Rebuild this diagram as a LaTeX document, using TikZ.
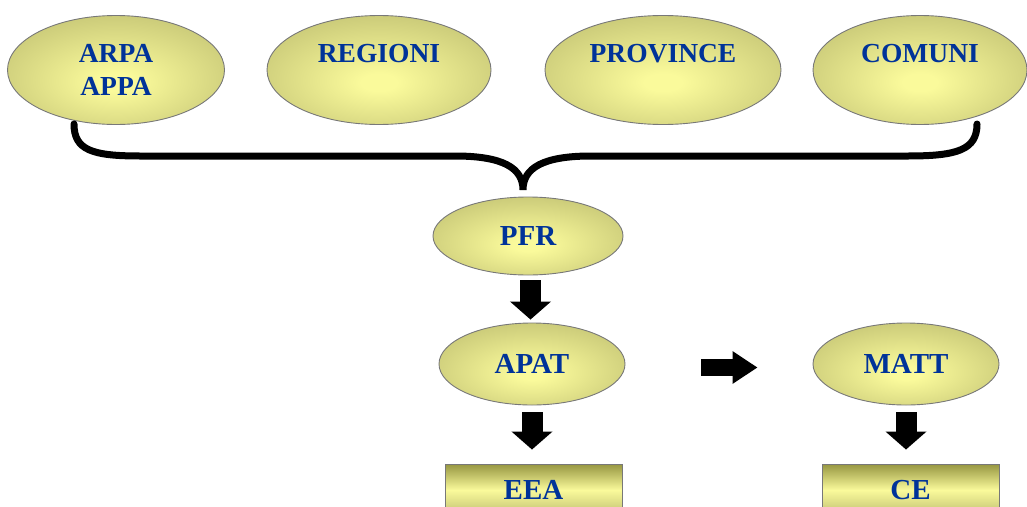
\documentclass[tikz,border=0pt]{standalone}
\usepackage{fontspec}
\setmainfont{Liberation Serif}
\usetikzlibrary{arrows.meta, shapes.geometric}
\definecolor{labelblue}{RGB}{0,51,153}
\definecolor{ovalin}{RGB}{250,250,155}
\definecolor{ovalout}{RGB}{190,190,112}
\definecolor{ovalrim}{RGB}{176,176,96}
\definecolor{boxtop}{RGB}{150,150,65}
\definecolor{ovalline}{RGB}{120,120,120}
\pgfdeclareradialshading{ovalshade}{\pgfpoint{0bp}{-6bp}}{color(0bp)=(ovalin); color(4bp)=(ovalin); color(36bp)=(ovalout); color(52bp)=(ovalrim); color(75bp)=(ovalrim)}

\begin{document}
\begin{tikzpicture}[
            x=1pt, y=-1pt,
            oval/.style={ellipse, draw=ovalline, line width=0.9pt, shading=ovalshade,
                         inner sep=0pt, align=center, text=labelblue,
                         font=\fontsize{29}{33}\selectfont\bfseries},
            topoval/.style={oval, minimum height=109pt,
                            font=\fontsize{27.5}{33}\selectfont\bfseries},
            panel/.style={rectangle, draw=ovalline, line width=0.9pt,
                          top color=boxtop, bottom color=ovalout, middle color=ovalin,
                          inner sep=0pt, text=labelblue,
                          font=\fontsize{29}{33}\selectfont\bfseries},
            blockarrow/.style={line width=21pt, -{Triangle[length=18pt, width=40pt]}},
            brace/.style={line width=7pt, line cap=round}
            ]
        \useasboundingbox (0,0) rectangle (1027,506);

        % top row
        \node[topoval, minimum width=217pt] (arpa) at (116,70) {ARPA\\APPA};
        \node[topoval, minimum width=224pt] (regioni) at (379,70) {REGIONI\\\mbox{}};
        \node[topoval, minimum width=236pt] (province) at (663,70) {PROVINCE\\\mbox{}};
        \node[topoval, minimum width=214pt] (comuni) at (920,70) {COMUNI\\\mbox{}};

        % brace
        \path coordinate (bl) at (74,124)
              coordinate (br) at (977,124)
              coordinate (tip) at (523,190);
        \draw[brace] (bl) .. controls (74,150) and (92,156) .. (140,156)
              -- (455,156) .. controls (503,156) and (523,168) .. (tip)
              .. controls (523,168) and (543,156) .. (591,156)
              -- (908,156) .. controls (957,156) and (977,150) .. (br);

        % chain
        \node[oval, minimum width=190pt, minimum height=78pt] (pfr) at (528,236) {PFR};
        \node[oval, minimum width=186pt, minimum height=82pt] (apat) at (532,364) {APAT};
        \node[oval, minimum width=186pt, minimum height=82pt] (matt) at (906,364) {MATT};
        \node[panel, minimum width=177pt, minimum height=52pt] (eea) at (533.5,490) {EEA};
        \node[panel, minimum width=177pt, minimum height=52pt] (ce) at (910.5,490) {CE};

        \draw[blockarrow] ([xshift=2.5pt,yshift=-5pt]pfr.south) -- ([xshift=2.5pt,yshift=3pt]pfr.south |- apat.north);
        \draw[blockarrow] ([yshift=-7pt]apat.south) -- ([yshift=14pt]apat.south |- eea.north);
        \draw[blockarrow] ([yshift=-7pt]matt.south) -- ([yshift=14pt]matt.south |- ce.north);
        \draw[line width=17pt, -{Triangle[length=25pt, width=31pt]},
              shorten <=76pt, shorten >=55pt] ([yshift=-3.5pt]apat.east) -- ([yshift=-3.5pt]matt.west);
    \end{tikzpicture}
\end{document}
